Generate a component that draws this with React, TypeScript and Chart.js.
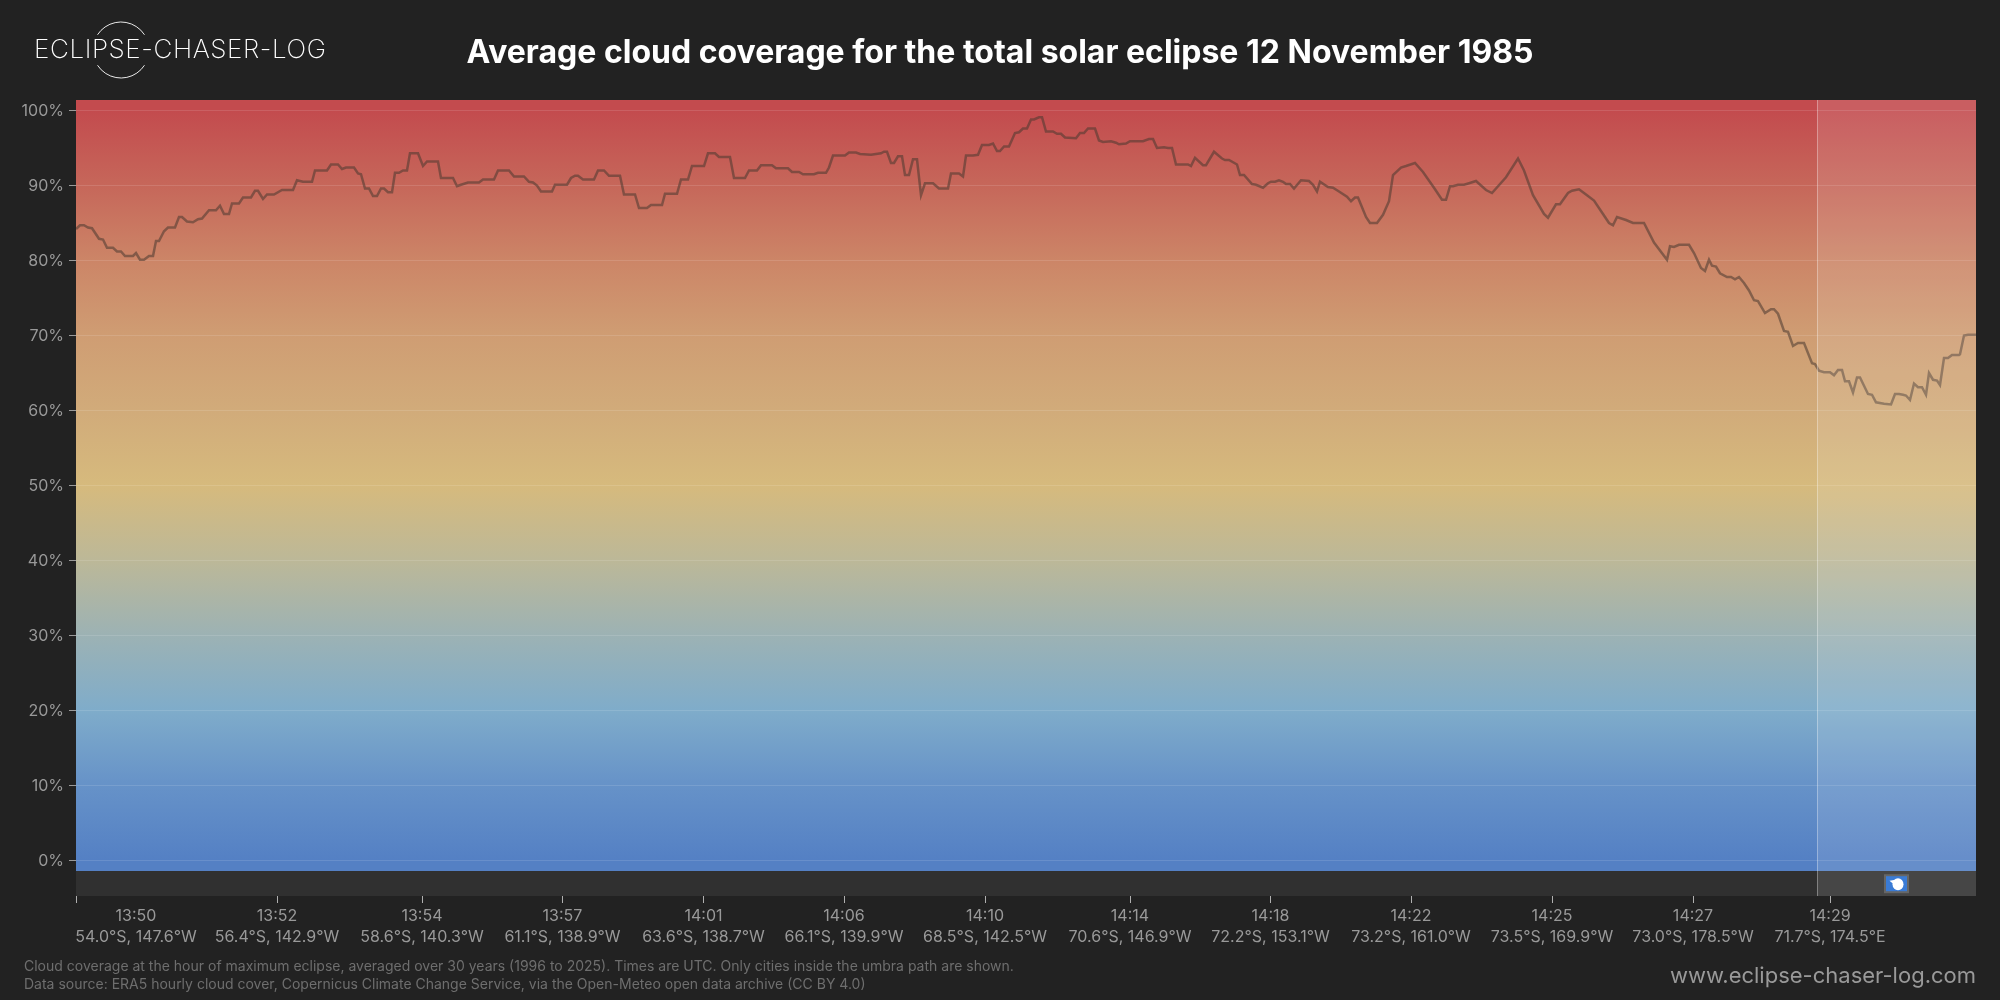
import React, { useEffect, useRef } from "react";
import { Chart, registerables } from "chart.js";

Chart.register(...registerables);

const titleText = "Average cloud coverage for the total solar eclipse 12 November 1985";
const logoText = "ECLIPSE-CHASER-LOG";
const footerLines = [
  "Cloud coverage at the hour of maximum eclipse, averaged over 30 years (1996 to 2025). Times are UTC. Only cities inside the umbra path are shown.",
  "Data source: ERA5 hourly cloud cover, Copernicus Climate Change Service, via the Open-Meteo open data archive (CC BY 4.0)",
];
const siteUrl = "www.eclipse-chaser-log.com";

const yTicks = [0, 10, 20, 30, 40, 50, 60, 70, 80, 90, 100];

// position along the track, and tick labels
const tickPos = [0, 60, 201, 346, 486.5, 627.5, 768, 909, 1054, 1194.5, 1335, 1476, 1617, 1754];
const tickTimes = ["", "13:50", "13:52", "13:54", "13:57", "14:01", "14:06", "14:10", "14:14", "14:18", "14:22", "14:25", "14:27", "14:29"];
const tickCoords = ["", "54.0°S, 147.6°W", "56.4°S, 142.9°W", "58.6°S, 140.3°W", "61.1°S, 138.9°W", "63.6°S, 138.7°W", "66.1°S, 139.9°W", "68.5°S, 142.5°W", "70.6°S, 146.9°W", "72.2°S, 153.1°W", "73.2°S, 161.0°W", "73.5°S, 169.9°W", "73.0°S, 178.5°W", "71.7°S, 174.5°E"];

const trackPos = [
  0, 4, 8, 12, 16, 23, 27, 31, 37, 41, 45, 49, 57, 60, 64, 68, 73, 77, 80, 83, 88, 92, 99, 103, 106, 111, 117, 122, 126, 133, 140, 144, 148, 153, 156, 163, 167, 175, 179, 182, 187, 191, 198, 206, 217, 221, 227, 236, 239, 251, 255, 262, 266, 270, 278, 282, 285, 289, 293, 297, 301, 305, 308, 312, 316, 319, 323, 327, 331, 334, 342, 347, 351, 362, 365, 377, 381, 385, 392, 403, 407, 418, 422, 433, 438, 448, 453, 457, 461, 465, 476, 479, 491, 495, 499, 502, 507, 518,
  522, 528, 533, 544, 548, 559, 563, 571, 575, 586, 589, 601, 605, 612, 616, 628, 632, 639, 643, 654, 658, 669, 673, 681, 685, 696, 700, 712, 716, 723, 727, 738, 742, 750, 753, 757, 769, 773, 780, 784, 795, 805, 808, 811, 815, 818, 822, 826, 829, 833, 837, 841, 845, 849, 857, 863, 872, 875, 883, 887, 890, 897, 902, 906, 913, 917, 921, 924, 928, 933, 939, 943, 947, 951, 955, 958, 963, 966, 970, 977, 981, 985, 989, 1000, 1004, 1008, 1012, 1019, 1023, 1027, 1035,
  1040, 1043, 1050, 1054, 1067, 1073, 1077, 1081, 1088, 1092, 1096, 1100, 1112, 1115, 1119, 1127, 1130, 1138, 1146, 1149, 1153, 1161, 1164, 1168, 1176, 1180, 1187, 1192, 1195, 1199, 1203, 1207, 1210, 1214, 1218, 1225, 1233, 1237, 1241, 1244, 1252, 1257, 1263, 1271, 1275, 1279, 1282, 1290, 1294, 1301, 1307, 1313, 1317, 1325, 1330, 1339, 1347, 1358, 1366, 1370, 1374, 1377, 1382, 1388, 1393, 1400, 1410, 1416, 1430, 1442, 1448, 1457, 1468, 1472, 1480, 1484, 1492, 1496, 1503, 1510, 1518, 1526, 1533, 1537, 1541, 1550, 1557,
  1568, 1578, 1591, 1594, 1598, 1603, 1613, 1618, 1625, 1629, 1633, 1636, 1640, 1644, 1651, 1655, 1659, 1663, 1668, 1673, 1678, 1682, 1689, 1695, 1698, 1702, 1708, 1712, 1717, 1722, 1728, 1736, 1739, 1743, 1748, 1754, 1758, 1762, 1766, 1769, 1773, 1777, 1781, 1784, 1792, 1796, 1800, 1808, 1815, 1819, 1823, 1827, 1830, 1834, 1838, 1842, 1846, 1850, 1853, 1857, 1861, 1864, 1868, 1872, 1876, 1883, 1884, 1888, 1892, 1900,
];

const cloudCover = [
  84.2, 84.7, 84.7, 84.4, 84.3, 82.9, 82.8, 81.7, 81.7, 81.2, 81.2, 80.6, 80.6, 81.0, 80.1, 80.1, 80.6, 80.6, 82.6, 82.6, 83.9, 84.4, 84.4, 85.8, 85.8, 85.2, 85.1, 85.5, 85.6, 86.7, 86.7, 87.3, 86.2, 86.2, 87.6, 87.6, 88.4, 88.4, 89.3, 89.3, 88.2, 88.8, 88.8, 89.4, 89.4, 90.7, 90.5, 90.5, 92.0, 92.0, 92.8, 92.8, 92.2, 92.4, 92.4, 91.6, 91.5, 89.6, 89.6, 88.6, 88.6, 89.6, 89.6, 89.1, 89.1, 91.7, 91.7, 92.0, 92.0, 94.3, 94.3, 92.6, 93.2, 93.2, 91.0, 91.0, 89.9, 90.1, 90.4, 90.4, 90.8, 90.8, 92.0, 92.0, 91.2, 91.2, 90.5, 90.4, 90.0, 89.2, 89.2, 90.1, 90.1, 91.0, 91.3, 91.3, 90.8, 90.8,
  92.0, 92.0, 91.3, 91.3, 88.8, 88.8, 87.0, 87.0, 87.4, 87.4, 88.9, 88.9, 90.8, 90.8, 92.6, 92.6, 94.3, 94.3, 93.8, 93.8, 91.0, 91.0, 92.0, 92.0, 92.7, 92.7, 92.3, 92.3, 91.8, 91.8, 91.5, 91.5, 91.7, 91.7, 92.4, 94.0, 94.0, 94.4, 94.4, 94.2, 94.1, 94.3, 94.5, 94.5, 93.0, 93.0, 93.9, 93.9, 91.4, 91.4, 93.5, 93.5, 88.7, 90.3, 90.3, 89.6, 89.6, 91.6, 91.6, 91.2, 94.0, 94.0, 94.1, 95.4, 95.4, 95.6, 94.6, 94.6, 95.2, 95.2, 97.0, 97.1, 97.6, 97.6, 98.8, 98.8, 99.1, 99.1, 97.2, 97.2, 96.9, 96.9, 96.4, 96.3, 97.0, 97.0, 97.6, 97.6, 96.0, 95.8, 95.9,
  95.7, 95.5, 95.6, 95.9, 95.9, 96.2, 96.2, 95.0, 95.1, 95.0, 95.0, 92.8, 92.8, 92.6, 93.7, 92.7, 92.7, 94.5, 93.6, 93.4, 93.4, 92.8, 91.4, 91.4, 90.2, 90.1, 89.7, 90.3, 90.5, 90.5, 90.7, 90.5, 90.2, 90.2, 89.6, 90.7, 90.6, 90.1, 89.2, 90.5, 89.8, 89.7, 89.2, 88.5, 87.9, 88.4, 88.4, 85.8, 85.0, 85.0, 86.1, 87.9, 91.4, 92.4, 92.6, 93.0, 91.8, 89.7, 88.1, 88.1, 89.9, 89.9, 90.1, 90.1, 90.3, 90.6, 89.4, 89.0, 91.1, 93.6, 92.0, 88.7, 86.2, 85.7, 87.5, 87.5, 89.0, 89.3, 89.5, 88.8, 88.0, 86.4, 85.0, 84.7, 85.8, 85.4, 85.0,
  85.0, 82.4, 80.1, 81.9, 81.8, 82.1, 82.1, 81.0, 79.0, 78.6, 80.1, 79.3, 79.2, 78.3, 77.8, 77.8, 77.5, 77.8, 77.0, 76.0, 74.7, 74.6, 73.0, 73.5, 73.5, 72.9, 70.6, 70.5, 68.6, 69.0, 69.0, 66.3, 66.2, 65.3, 65.1, 65.1, 64.7, 65.4, 65.4, 63.9, 63.9, 62.4, 64.4, 64.4, 62.2, 62.1, 61.1, 60.9, 60.8, 62.2, 62.2, 62.1, 62.0, 61.4, 63.6, 63.1, 63.1, 62.1, 65.0, 64.1, 64.0, 63.4, 67.0, 67.0, 67.4, 67.4, 67.5, 70.0, 70.1, 70.1,
];

// colour ramp of the background, by percent of cloud cover
const rampValues = [0, 10, 20, 30, 40, 50, 60, 70, 80, 90, 100];
const rampColors = ["#5480c4", "#6692c8", "#7facca", "#9cb2b4", "#bcb898", "#d6ba7d", "#d1ab7a", "#cf9d73", "#cc8567", "#c6675a", "#c34b4e"];

const yMin = -4.73;
const yMax = 101.4;
const bandBottom = -1.4;
const highlightStart = 1741;
const flagPos = 1820.5;

const FONT = "Inter, 'Noto Sans', sans-serif";

const decor = {
  id: "decor",
  beforeDraw(chart: any) {
    const { ctx, chartArea, scales } = chart;
    const y = scales.y;
    ctx.save();
    ctx.fillStyle = "#222222";
    ctx.fillRect(0, 0, chart.width, chart.height);
    const pTop = y.getPixelForValue(yMax);
    const pBot = y.getPixelForValue(bandBottom);
    const p0 = y.getPixelForValue(0);
    const p100 = y.getPixelForValue(100);
    const g = ctx.createLinearGradient(0, p0, 0, p100);
    rampValues.forEach((v, i) => g.addColorStop(v / 100, rampColors[i]));
    ctx.fillStyle = g;
    ctx.fillRect(chartArea.left, pTop, chartArea.width, pBot - pTop);
    ctx.fillStyle = "#303030";
    ctx.fillRect(chartArea.left, pBot, chartArea.width, chartArea.bottom - pBot);
    ctx.restore();
  },
  afterDatasetsDraw(chart: any) {
    const { ctx, chartArea, scales } = chart;
    const hx = scales.x.getPixelForValue(highlightStart);
    const pBot = scales.y.getPixelForValue(bandBottom);
    ctx.save();
    // highlighted zone
    ctx.fillStyle = "rgba(255,255,255,0.11)";
    ctx.fillRect(hx, chartArea.top, chartArea.right - hx, chartArea.height);
    ctx.strokeStyle = "rgba(255,255,255,0.32)";
    ctx.lineWidth = 1;
    ctx.beginPath();
    ctx.moveTo(Math.round(hx) + 0.5, chartArea.top);
    ctx.lineTo(Math.round(hx) + 0.5, chartArea.bottom);
    ctx.stroke();
    // flag
    const fx = scales.x.getPixelForValue(flagPos);
    const fy = (pBot + chartArea.bottom) / 2 + 0.2;
    ctx.fillStyle = "#666666";
    ctx.fillRect(fx - 12.5, fy - 9.5, 25, 19);
    ctx.fillStyle = "#3a7bd5";
    ctx.fillRect(fx - 10.5, fy - 7.5, 21, 15);
    ctx.fillStyle = "#ffffff";
    ctx.beginPath();
    ctx.ellipse(fx + 1.5, fy + 0.5, 5.5, 6, 0, 0, Math.PI * 2);
    ctx.fill();
    ctx.beginPath();
    ctx.moveTo(fx - 7, fy - 3);
    ctx.lineTo(fx - 1, fy - 4);
    ctx.lineTo(fx - 1, fy + 2);
    ctx.closePath();
    ctx.fill();
    ctx.restore();
  },
  afterDraw(chart: any) {
    const { ctx } = chart;
    ctx.save();
    // logo
    ctx.strokeStyle = "#ffffff";
    ctx.lineWidth = 0.9;
    const a = (57 * Math.PI) / 180;
    ctx.beginPath();
    ctx.arc(121, 50, 28, -Math.PI / 2 - a, -Math.PI / 2 + a);
    ctx.stroke();
    ctx.beginPath();
    ctx.arc(121, 50, 28, Math.PI / 2 - a, Math.PI / 2 + a);
    ctx.stroke();
    ctx.fillStyle = "#ffffff";
    ctx.font = `200 26px ${FONT}`;
    ctx.textAlign = "left";
    ctx.textBaseline = "middle";
    (ctx as any).letterSpacing = "0.6px";
    ctx.fillText(logoText, 34, 50.5);
    (ctx as any).letterSpacing = "0px";
    // footer
    ctx.fillStyle = "#6e6e6e";
    ctx.font = `14px ${FONT}`;
    ctx.fillText(footerLines[0], 24, 967);
    ctx.fillText(footerLines[1], 24, 985);
    ctx.fillStyle = "#999999";
    ctx.font = `22px ${FONT}`;
    ctx.textAlign = "right";
    ctx.fillText(siteUrl, 1976, 976);
    ctx.restore();
  },
};

export default function App() {
  const ref = useRef<HTMLCanvasElement>(null);
  useEffect(() => {
    document.body.style.margin = "0";
    document.body.style.background = "#222222";
    const chart = new Chart(ref.current!, {
      type: "line",
      data: {
        datasets: [
          {
            data: trackPos.map((x, i) => ({ x, y: cloudCover[i] })),
            borderColor: "rgba(72,56,48,0.55)",
            borderWidth: 2.5,
            pointRadius: 0,
            tension: 0,
            fill: false,
          },
        ],
      },
      plugins: [decor],
      options: {
        responsive: false,
        animation: false,
        devicePixelRatio: 1,
        layout: { padding: 0 },
        plugins: {
          legend: { display: false },
          tooltip: { enabled: false },
          title: {
            display: true,
            text: titleText,
            color: "#ffffff",
            font: { family: FONT, size: 32, weight: "bold", lineHeight: 1.2 },
            padding: { top: 34, bottom: 27.6 },
          },
        },
        scales: {
          x: {
            type: "linear",
            min: 0,
            max: 1900,
            afterBuildTicks: (s: any) => {
              s.ticks = tickPos.map((value) => ({ value }));
            },
            afterFit: (s: any) => {
              s.height = 104;
            },
            border: { display: false },
            grid: {
              drawOnChartArea: false,
              drawTicks: true,
              tickLength: 7,
              tickColor: (c: any) => (c.index === 1 ? "rgba(0,0,0,0)" : "#b0b0b0"),
            },
            ticks: {
              autoSkip: false,
              maxRotation: 0,
              minRotation: 0,
              padding: 2.5,
              color: "#999999",
              font: { family: FONT, size: 16, lineHeight: 1.3 },
              callback: (_v: any, i: number) => (tickTimes[i] ? [tickTimes[i], tickCoords[i]] : ""),
            },
          },
          y: {
            type: "linear",
            min: yMin,
            max: yMax,
            afterBuildTicks: (s: any) => {
              s.ticks = yTicks.map((value) => ({ value }));
            },
            afterFit: (s: any) => {
              s.width = 76;
            },
            border: { display: false },
            grid: {
              color: "rgba(255,255,255,0.12)",
              lineWidth: 1,
              tickLength: 7,
              tickColor: "#999999",
            },
            ticks: {
              autoSkip: false,
              padding: 5,
              labelOffset: 1,
              color: "#999999",
              font: { family: FONT, size: 16 },
              callback: (v: any) => `${v}%`,
            },
          },
          rightGutter: {
            type: "linear",
            position: "right",
            display: true,
            afterFit: (s: any) => {
              s.width = 24;
            },
            border: { display: false },
            grid: { display: false, drawTicks: false },
            ticks: { display: false },
          },
        },
      },
    } as any);
    return () => chart.destroy();
  }, []);
  return <canvas ref={ref} width={2000} height={1000} style={{ display: "block", width: 2000, height: 1000 }} />;
}
